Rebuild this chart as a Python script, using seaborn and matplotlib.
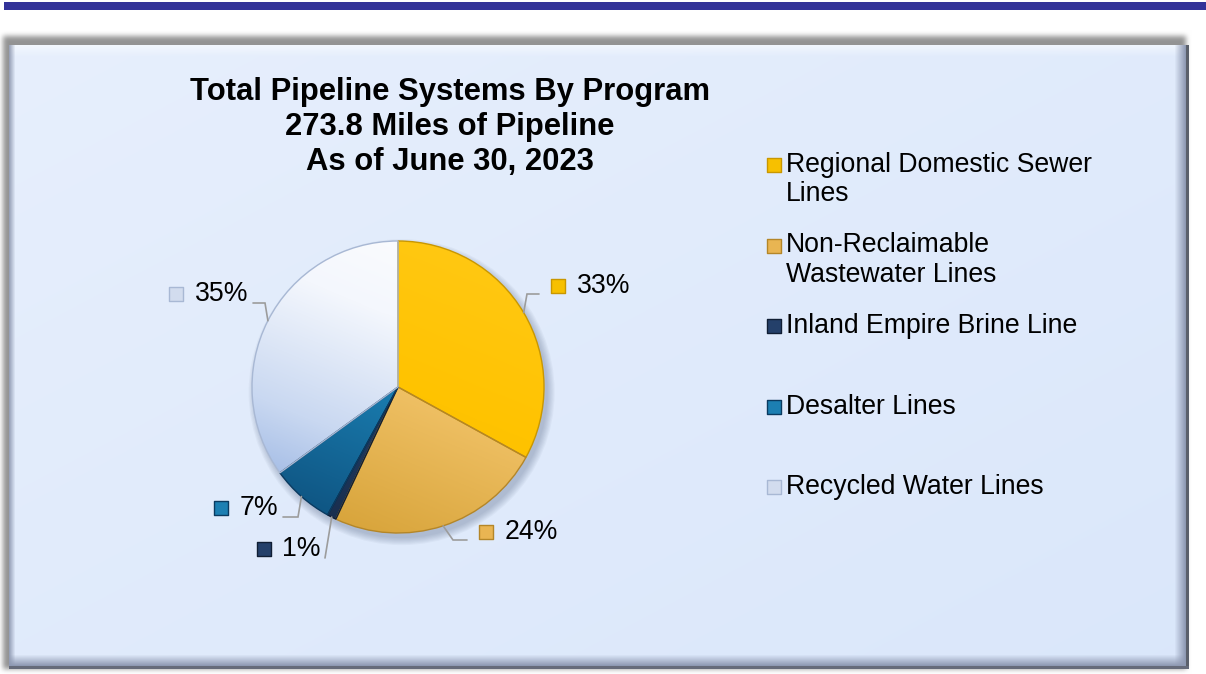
import textwrap

import numpy as np
import matplotlib
matplotlib.use("Agg")
import matplotlib.pyplot as plt
from matplotlib.patches import Circle
import seaborn as sns

# ---- data -------------------------------------------------------------
categories = [
    "Regional Domestic Sewer Lines",
    "Non-Reclaimable Wastewater Lines",
    "Inland Empire Brine Line",
    "Desalter Lines",
    "Recycled Water Lines",
]
shares = [33, 24, 1, 7, 35]  # percent of total pipeline miles
title_lines = [
    "Total Pipeline Systems By Program",
    "273.8 Miles of Pipeline",
    "As of June 30, 2023",
]

# ---- styling ----------------------------------------------------------
slice_ramps = [
    ["#FFC917", "#FFC300", "#F3B600"],
    ["#FDD98E", "#EFC064", "#D29D30"],
    ["#2E4E7C", "#223E66", "#172A48"],
    ["#2AAAD9", "#1A7DB0", "#0C4A76"],
    ["#FFFFFF", "#F4F7FD", "#C9D8F1", "#86A6DC"],
]
edge_colors = ["#C99700", "#B48628", "#101E34", "#0A3A60", "#A8B8D4"]
marker_colors = ["#F7C000", "#E9B552", "#24406A", "#1C7FB2", "#D2DCEE"]

sns.set_theme(style="white")
plt.rcParams["font.family"] = ["Liberation Sans", "DejaVu Sans"]

W, H = 1206, 674
fig = plt.figure(figsize=(W / 100, H / 100), dpi=100)
fig.patch.set_facecolor("white")


def box_blur(a, k, passes=3):
    ker = np.ones(k) / k
    for _ in range(passes):
        a = np.apply_along_axis(lambda r: np.convolve(r, ker, mode="same"), 1, a)
        a = np.apply_along_axis(lambda c: np.convolve(c, ker, mode="same"), 0, a)
    return a


# ---- background panel (pixel-space image) -----------------------------
img = np.ones((H, W, 3))
img[2:10, 4:W] = np.array([0x33, 0x33, 0x99]) / 255.0

shadow = np.zeros((H, W))
shadow[36:669, 3:1186] = 1.0
shadow = box_blur(shadow, 5)
img *= (1 - 0.42 * shadow)[..., None]

px0, px1, py0, py1 = 9, 1189, 45, 669
yy, xx = np.mgrid[py0:py1, px0:px1]
t = ((xx - px0) / (px1 - px0) * 0.5 + (yy - py0) / (py1 - py0) * 0.5)
c_tl = np.array([0.905, 0.937, 0.990])
c_br = np.array([0.855, 0.905, 0.982])
panel = c_tl + (c_br - c_tl) * t[..., None]

edge_dark = np.array([0.56, 0.60, 0.70])
nw = 12
# top bevel: light
a = np.linspace(0.6, 0.0, nw)[:, None, None]
panel[:nw] = panel[:nw] * (1 - a) + np.array([0.98, 0.99, 1.0]) * a
# left bevel
a = np.linspace(0.75, 0.0, 7)[None, :, None]
panel[:, :7] = panel[:, :7] * (1 - a) + np.array([0.50, 0.54, 0.64]) * a
# right bevel
a = np.linspace(0.0, 1.0, nw)[None, :, None]
panel[:, -nw - 3:-3] = panel[:, -nw - 3:-3] * (1 - a) + edge_dark * a
panel[:, -3:] = np.array([0.36, 0.38, 0.42])
# bottom bevel
a = np.linspace(0.0, 1.0, nw)[:, None, None]
panel[-nw - 3:-3, :-3] = panel[-nw - 3:-3, :-3] * (1 - a) + edge_dark * a
panel[-3:, :] = np.array([0.40, 0.42, 0.48])
img[py0:py1, px0:px1] = panel

bg = fig.add_axes([0, 0, 1, 1], zorder=0)
bg.imshow(img, extent=(0, W, H, 0), interpolation="bilinear")
bg.set_xlim(0, W)
bg.set_ylim(H, 0)
bg.axis("off")

# ---- title ------------------------------------------------------------
for i, line in enumerate(title_lines):
    bg.text(450, 100 + 35 * i, line, ha="center", va="baseline",
            fontsize=22.3, fontweight="bold", color="black")

# ---- legend -----------------------------------------------------------
for i, name in enumerate(categories):
    y0 = 165 + 80.5 * i
    bg.scatter([774], [y0], marker="s", s=95, color=marker_colors[i],
               edgecolor=edge_colors[i], linewidth=1.0, zorder=3)
    for j, part in enumerate(textwrap.wrap(name, 24)):
        bg.text(786, y0 + 29 * j, part, ha="left", va="center",
                fontsize=19.2, color="black")

# ---- pie --------------------------------------------------------------
CX, CY, R = 398, 387, 146
half = 250
ax = fig.add_axes([(CX - half) / W, (H - CY - half) / H, 2 * half / W, 2 * half / H], zorder=1)
ax.patch.set_alpha(0)

for k in range(7):
    ax.add_patch(Circle((0.025, -0.035), 1.0 + 0.008 * k, color="#4a5a7a",
                        alpha=0.05, lw=0, zorder=1))

wedges, _ = ax.pie(shares, colors=marker_colors, startangle=90, counterclock=False,
                   radius=1.0, wedgeprops=dict(linewidth=1.0))

gy, gx = np.mgrid[0:1:300j, 0:1:300j]
grad = 0.85 * gy + 0.35 * (1 - gx)
grad = (grad - grad.min()) / (grad.max() - grad.min())
for w, stops, ec in zip(wedges, slice_ramps, edge_colors):
    cmap = sns.blend_palette(stops, as_cmap=True)
    im = ax.imshow(grad, extent=(-1, 1, -1, 1), origin="upper", cmap=cmap,
                   aspect="auto", zorder=2, interpolation="bilinear")
    im.set_clip_path(w)
    w.set_facecolor("none")
    w.set_edgecolor(ec)
    w.set_zorder(3)

lim = half / R
ax.set_xlim(-lim, lim)
ax.set_ylim(-lim, lim)
ax.axis("off")


def to_data(x, y):
    return (x - CX) / R, (CY - y) / R


# ---- data labels with leader lines ------------------------------------
# leader end points next to each label, in pixel offsets
leader_ends = [(539, 294), (467, 540), (325, 558), (283, 517), (253, 303)]
elbow_shift = [-12, -14, 0, 15, 12]

cum = np.cumsum(shares)
for i, v in enumerate(shares):
    mid = np.deg2rad(90 - 360 * (cum[i] - v / 2) / sum(shares))
    ex, ey = np.cos(mid), np.sin(mid)
    axp, ayp = leader_ends[i]
    elx, ely = to_data(axp + elbow_shift[i], ayp)
    enx, eny = to_data(axp, ayp)
    ax.plot([ex, elx, enx], [ey, ely, eny], color="#9C9C9C", lw=1.2, zorder=4,
            solid_joinstyle="miter")
    label = f"{v}%"
    if ex > 0:
        mx, my = axp + 19, ayp - 8
        ax.scatter(*to_data(mx, my), marker="s", s=95, color=marker_colors[i],
                   edgecolor=edge_colors[i], linewidth=1.0, zorder=5)
        ax.text(*to_data(mx + 19, my), label, ha="left", va="center",
                fontsize=19.2, color="black", zorder=5)
    else:
        tx, ty = axp - 5, ayp - 9
        txt = ax.text(*to_data(tx, ty), label, ha="right", va="center",
                      fontsize=19.2, color="black", zorder=5)
        fig.canvas.draw()
        bb = txt.get_window_extent()
        ax.scatter(*to_data(bb.x0 - 18, ty), marker="s", s=95,
                   color=marker_colors[i], edgecolor=edge_colors[i],
                   linewidth=1.0, zorder=5)

fig.savefig("out.png", dpi=100, facecolor=fig.get_facecolor())
